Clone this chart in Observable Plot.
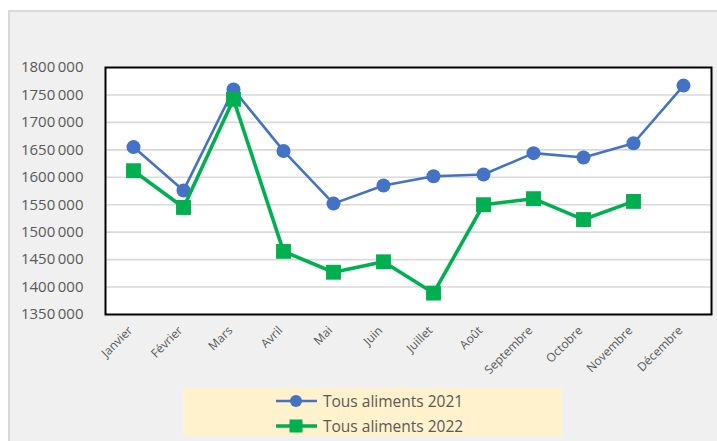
<!DOCTYPE html>
<html><head><meta charset="utf-8">
<script src="https://cdn.jsdelivr.net/npm/d3@7"></script>
<script src="https://cdn.jsdelivr.net/npm/@observablehq/plot@0.6"></script>
<style>
html,body{margin:0;padding:0;background:#fff;}
#panel{position:absolute;left:8px;top:10px;width:707px;height:429px;background:#f0f0f0;border-left:2px solid #d9d9d9;border-top:2px solid #d9d9d9;}
#chart{position:absolute;left:0;top:0;}
#legend{position:absolute;left:183px;top:388px;width:379px;height:48px;background:#fff2cc;font-family:"Open Sans",sans-serif;font-size:15.5px;color:#595959;}
.item{position:absolute;left:93px;height:22px;display:flex;align-items:center;white-space:nowrap;}
.item svg{margin-right:6px;}
</style></head>
<body>
<div id="panel"></div>
<div id="chart"></div>
<div id="legend"></div>
<script>
const months = ["Janvier","Février","Mars","Avril","Mai","Juin","Juillet","Août","Septembre","Octobre","Novembre","Décembre"];
const values2021 = [1655000,1576000,1760000,1648000,1552000,1585000,1602000,1605000,1644000,1636000,1662000,1767000];
const values2022 = [1612000,1545000,1742000,1465000,1427000,1446000,1389000,1550000,1561000,1523000,1556000,null];
const seriesNames = ["Tous aliments 2021","Tous aliments 2022"];
const seriesColors = ["#4472c4","#00b050"];
const yTicks = [1350000,1400000,1450000,1500000,1550000,1600000,1650000,1700000,1750000,1800000];

const d21 = months.map((m,i)=>({month:m, value:values2021[i]}));
const d22 = months.map((m,i)=>({month:m, value:values2022[i]})).filter(d=>d.value!=null);

const fmt = d => { const s = String(d); return s.slice(0,-3) + "\u2009" + s.slice(-3); };

const plot = Plot.plot({
  width: 717,
  height: 380,
  marginLeft: 105,
  marginRight: 6,
  marginTop: 67,
  marginBottom: 66,
  style: {background:"transparent", fontFamily:"'Open Sans', sans-serif", color:"#595959"},
  x: {type:"point", domain: months, padding: 0.5, label: null},
  y: {domain:[1350000,1800000], label: null},
  marks: [
    Plot.frame({fill:"white", stroke:null}),
    Plot.ruleY(yTicks.slice(1,-1), {stroke:"#d9d9d9", strokeWidth:1.6}),
    Plot.frame({stroke:"black", strokeWidth:2}),
    Plot.axisY({ticks: yTicks, tickSize:0, tickPadding:22, tickFormat: fmt, fontSize:15, fill:"#595959", label: null}),
    Plot.axisX({tickSize:0, tickPadding:14, tickRotate:-45, fontSize:12, fill:"#595959", dx: -3, label: null}),
    Plot.line(d21, {x:"month", y:"value", stroke:seriesColors[0], strokeWidth:2.6}),
    Plot.dot(d21, {x:"month", y:"value", fill:seriesColors[0], r:7}),
    Plot.line(d22, {x:"month", y:"value", stroke:seriesColors[1], strokeWidth:3.6}),
    Plot.dot(d22, {x:"month", y:"value", fill:seriesColors[1], symbol:"square", r:8.4})
  ]
});
document.getElementById("chart").appendChild(plot);

const legend = document.getElementById("legend");
seriesNames.forEach((name,i)=>{
  const item = document.createElement("div");
  item.className = "item";
  item.style.top = (2 + i*25) + "px";
  const marker = i===0
    ? `<circle cx="20" cy="11" r="6" fill="${seriesColors[i]}"/>`
    : `<rect x="13.5" y="4.5" width="13" height="13" fill="${seriesColors[i]}"/>`;
  item.innerHTML = `<svg width="41" height="22"><line x1="0" x2="41" y1="11" y2="11" stroke="${seriesColors[i]}" stroke-width="${i===0?2.6:3.6}"/>${marker}</svg><span>${name}</span>`;
  legend.appendChild(item);
});
</script>
</body></html>
